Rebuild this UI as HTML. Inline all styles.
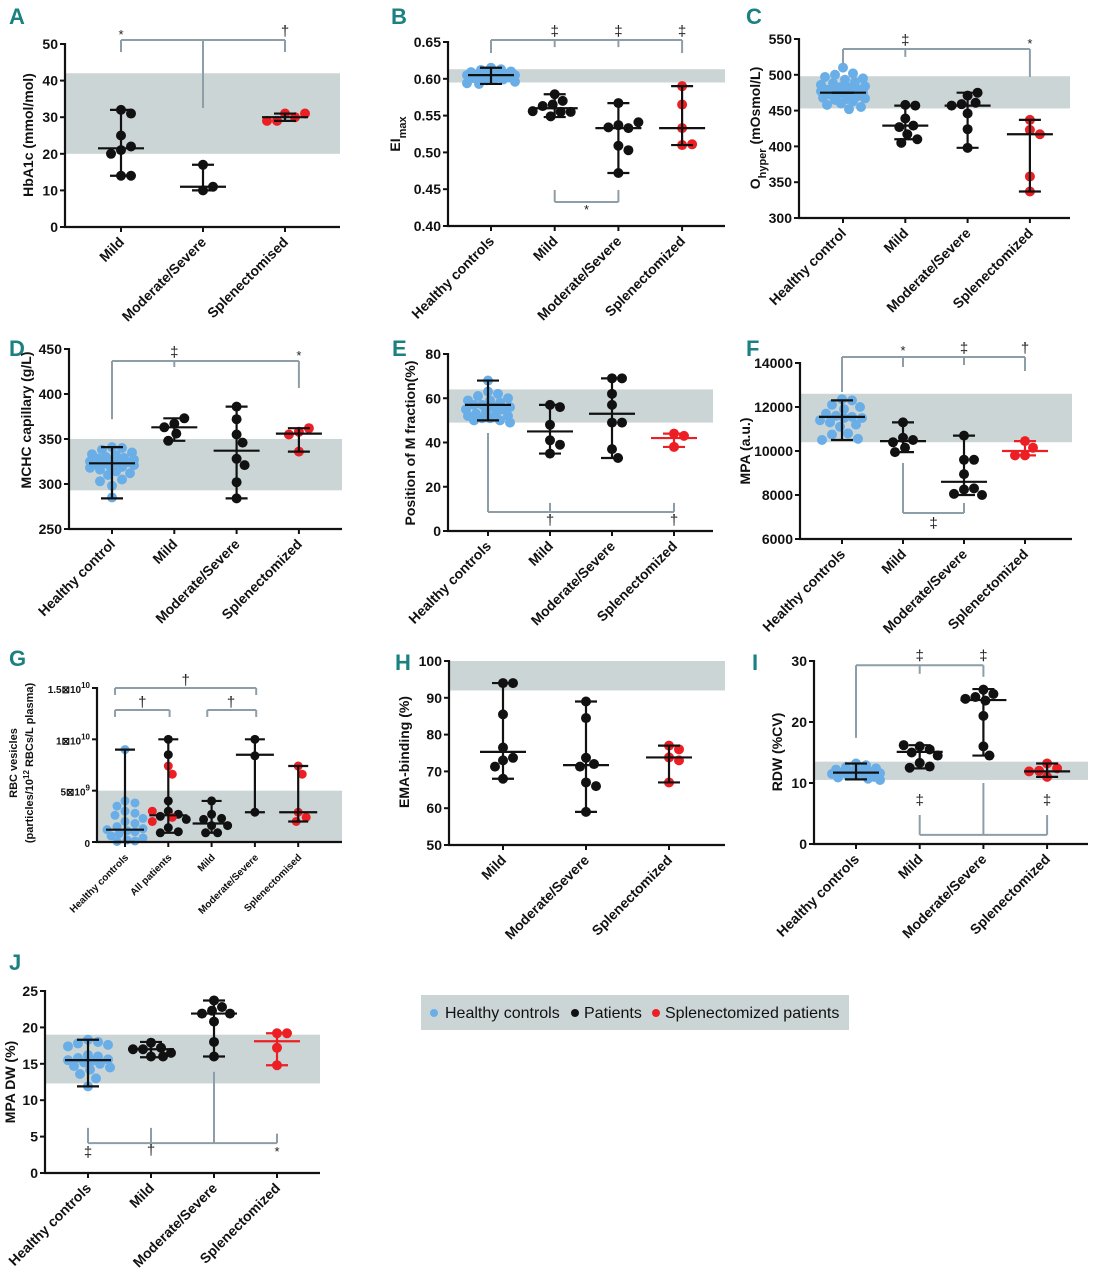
<!DOCTYPE html>
<html><head><meta charset="utf-8"><style>
html,body{margin:0;padding:0;background:#fff}
svg{display:block}
text{font-family:"Liberation Sans Narrow","Liberation Sans",sans-serif}
</style></head><body>
<svg id="fig" width="1103" height="1280" viewBox="0 0 1103 1280" xmlns="http://www.w3.org/2000/svg"></svg>
<script>
// ---------- data ----------
const A_cats=["Mild","Moderate/Severe","Splenectomised"];
const A_mild=[32,31,25,21,22,20,14,14];
const A_mod=[17,10,11];
const A_spl=[31,30,29,29,31];
const A_med=[21.5,11,30], A_lo=[14,10,29], A_hi=[32,17,31];
const A_ticks=[0,10,20,30,40,50];

const B_cats=["Healthy controls","Mild","Moderate/Severe","Splenectomized"];
const B_hc=[0.615,0.613,0.612,0.61,0.609,0.608,0.607,0.607,0.606,0.605,0.605,0.604,0.604,0.603,0.602,0.601,0.6,0.599,0.598,0.596,0.594,0.593];
const B_mild=[0.579,0.570,0.565,0.563,0.555,0.555,0.549,0.556];
const B_mod=[0.567,0.537,0.533,0.534,0.541,0.509,0.503,0.472];
const B_spl=[0.590,0.565,0.533,0.510,0.511];
const B_med=[0.605,0.560,0.533,0.533], B_lo=[0.593,0.548,0.472,0.510], B_hi=[0.615,0.579,0.567,0.590];
const B_ticks=[0.40,0.45,0.50,0.55,0.60,0.65];

const C_cats=["Healthy control","Mild","Moderate/Severe","Splenectomized"];
const C_hc=[510,502,500,497,495,493,490,488,486,484,483,482,480,479,478,477,476,475,474,473,472,470,468,467,466,465,463,460,458,455,452];
const C_mild=[458,457,439,429,427,417,405,410];
const C_mod=[471,475,461,459,457,446,424,398];
const C_spl=[437,423,417,358,337];
const C_med=[475,429,457,417], C_lo=[475,410,398,337], C_hi=[475,457,475,437];
const C_ticks=[300,350,400,450,500,550];

const D_cats=["Healthy control","Mild","Moderate/Severe","Splenectomized"];
const D_hc=[341,340,338,335,333,332,330,329,328,327,326,325,324,324,323,322,321,320,319,318,316,314,312,310,305,303,298,285];
const D_mild=[367,373,363,356,348];
const D_mod=[386,372,355,346,328,321,302,284];
const D_spl=[358,362,355,336];
const D_med=[323,363,337,356], D_lo=[284,348,284,336], D_hi=[341,373,386,362];
const D_ticks=[250,300,350,400,450];

const E_cats=["Healthy controls","Mild","Moderate/Severe","Splenectomized"];
const E_hc=[68,63,62,61,60,59,59,58,57,57,56,56,55,55,54,53,53,52,52,51,51,50,50,49];
const E_mild=[57,56,48,41,39,35];
const E_mod=[69,69,62,57,49,49,37,33];
const E_spl=[44,43,38];
const E_med=[57,45,53,42], E_lo=[50,35,33,38], E_hi=[68,57,69,44];
const E_ticks=[0,20,40,60,80];

const F_cats=["Healthy controls","Mild","Moderate/Severe","Splenectomized"];
const F_hc=[12350,12300,12100,12000,11900,11700,11600,11550,11500,11500,11400,11300,11200,11100,10800,10750,10550,10500];
const F_mild=[11300,10600,10500,10400,10150,9950];
const F_mod=[10700,9600,9600,8950,8250,8300,8050,8000];
const F_spl=[10450,10150,9800,9800];
const F_med=[11550,10450,8600,10000], F_lo=[10500,9950,8000,9800], F_hi=[12300,11300,10700,10450];
const F_ticks=[6000,8000,10000,12000,14000];

const G_cats=["Healthy controls","All patients","Mild","Moderate/Severe","Splenectomised"];
const G_hc=[9e9,4e9,3.8e9,3.5e9,3e9,2.8e9,2.6e9,2.3e9,2e9,1.8e9,1.5e9,1.3e9,1.2e9,1.1e9,1e9,0.8e9,0.6e9,0.4e9,0.2e9,0.1e9,0.05e9];
const G_all_black=[10e9,8.5e9,4e9,3e9,2.7e9,2.5e9,2.2e9,1.4e9,1e9,0.9e9];
const G_all_red=[7.4e9,6.6e9,3e9,2.4e9,2e9];
const G_mild=[4e9,2.7e9,2.3e9,2.2e9,1.6e9,1.6e9,0.9e9,0.9e9];
const G_mod=[10e9,8.4e9,2.9e9];
const G_spl=[7.4e9,6.6e9,2.9e9,2.4e9,2e9];
const G_med=[1.2e9,2.6e9,1.8e9,8.5e9,2.9e9], G_lo=[0,0.9e9,0.9e9,2.9e9,2e9], G_hi=[9e9,10e9,4e9,10e9,7.4e9];
const G_ticks=[0,5e9,1e10,1.5e10];
const G_tickLabels=[["0",""],["5\u22A010","9"],["1\u22A010","10"],["1.5\u22A010","10"]];

const H_cats=["Mild","Moderate/Severe","Splenectomized"];
const H_mild=[94,94,85.5,76.5,73,73.7,71.3,68];
const H_mod=[89,84.5,73.7,72,71.3,67,66,59];
const H_spl=[77,76,73.8,73,67];
const H_med=[75.3,71.7,73.8], H_lo=[68,59,67], H_hi=[94,89,77];
const H_ticks=[50,60,70,80,90,100];

const I_cats=["Healthy controls","Mild","Moderate/Severe","Splenectomized"];
const I_hc=[13.2,12.9,12.6,12.4,12.2,12,11.9,11.8,11.7,11.6,11.5,11.4,11.3,11.2,11,10.9,10.7,10.5];
const I_mild=[16,15.5,15,14.5,16.2,13.3,12.7,12.5];
const I_mod=[25.3,24.6,24.1,23.5,23.8,21,16,14.5];
const I_spl=[13.2,12.4,12,11.9,11];
const I_med=[11.7,15.1,23.6,11.9], I_lo=[10.6,12.4,14.5,11], I_hi=[13.2,16.2,25.4,13.2];
const I_ticks=[0,10,20,30];

const J_cats=["Healthy controls","Mild","Moderate/Severe","Splenectomized"];
const J_hc=[18.3,18,17.8,17.6,17.4,16.2,16,15.8,15.6,15.5,15.4,15.2,15,14.7,14.5,14.2,13.6,13,11.9];
const J_mild=[17.9,17.2,17,17,16.5,16,16];
const J_mod=[23.7,22.8,22.3,21.9,21.9,20.8,18,16];
const J_spl=[19.2,19.2,17.2,14.8];
const J_med=[15.5,17,21.9,18.1], J_lo=[11.9,15.9,16,14.8], J_hi=[18.3,18,23.7,19.2];
const J_ticks=[0,5,10,15,20,25];

// ---------- drawing ----------
const NS="http://www.w3.org/2000/svg";
const svg=document.getElementById('fig');
const BLUE="#6aaee8", RED="#ec2024", BLK="#111", BAND="#cbd5d5", GRAY="#8e9ea8", TEAL="#1b8080";
function mk(tag,attrs,parent){const e=document.createElementNS(NS,tag);for(const k in attrs)e.setAttribute(k,attrs[k]);(parent||svg).appendChild(e);return e;}

function panel(p){
  const g=mk('g',{});
  
  
  const ys=v=>p.yBot-(v-p.vmin)/(p.vmax-p.vmin)*(p.yBot-p.yTop);
  const xs=i=>p.c0+i*p.step;
  const band=mk('rect',{x:p.x0,y:ys(p.band[1]),width:p.x1-p.x0,height:ys(p.band[0])-ys(p.band[1]),fill:BAND},g);
  
  
  const lt=mk('text',{x:p.lx,y:p.ly,'font-size':22,'font-weight':'bold',fill:TEAL},g);
  lt.textContent=p.id;
  
  
  (p.brackets||[]).forEach(b=>{
    const yb=ys(b.y);
    const h=mk('line',{x1:xs(b.a),x2:xs(b.b),y1:yb,y2:yb,stroke:GRAY,'stroke-width':2},g);
    
    
    b.drops.forEach(d=>{
      const v=mk('line',{x1:xs(d[0]),x2:xs(d[0]),y1:yb,y2:ys(d[1]),stroke:GRAY,'stroke-width':2},g);
      
      
    });
    b.labels.forEach(l=>{
      const t=mk('text',{x:xs(l[0]),y:yb+l[2],'text-anchor':'middle','font-size':l[1]=='*'?13:15,fill:'#222'},g);
      t.textContent=l[1];
      
      
    });
  });
  p.groups.forEach(gr=>{
    const cx=xs(gr.i);
    const placed=[];
    const all=[];
    gr.sets.forEach(s=>s.vals.forEach(v=>all.push({v,c:s.color})));
    const r=p.r||5, dmin=r*2, maxW=p.sw||22;
    all.forEach(pt=>{
      const py=ys(pt.v);
      let best=0,bestD=-1;
      for(let k=0;k<60;k++){
        const o=(k%2?1:-1)*Math.ceil(k/2)*2;
        if(Math.abs(o)>maxW)break;
        const dm=placed.reduce((m,q)=>Math.min(m,Math.hypot(q.x-(cx+o),q.y-py)),1e9);
        if(dm>=dmin){best=o;bestD=dm;break;}
        if(dm>bestD){bestD=dm;best=o;}
      }
      placed.push({x:cx+best,y:py});
      const c=mk('circle',{cx:cx+best,cy:py,r:r,fill:pt.c},g);
      
      
    });
    const lc=gr.lineColor||BLK;
    const hw=p.mw||23, cw=p.cw||11;
    const el=[[cx,ys(gr.lo),cx,ys(gr.hi)],[cx-cw,ys(gr.lo),cx+cw,ys(gr.lo)],[cx-cw,ys(gr.hi),cx+cw,ys(gr.hi)],[cx-hw,ys(gr.med),cx+hw,ys(gr.med)]];
    el.forEach((l,k)=>{
      const ln=mk('line',{x1:l[0],y1:l[1],x2:l[2],y2:l[3],stroke:lc,'stroke-width':2.2},g);
      
      
    });
  });
  const ya=mk('line',{x1:p.x0,x2:p.x0,y1:p.yTop-1,y2:p.yBot+1,stroke:BLK,'stroke-width':2.2},g);
  
  
  const xa=mk('line',{x1:p.x0-1,x2:p.x1,y1:p.yBot,y2:p.yBot,stroke:BLK,'stroke-width':2.2},g);
  
  
  p.ticks.forEach((t,k)=>{
    const y=ys(t);
    const tl=mk('line',{x1:p.x0-5,x2:p.x0,y1:y,y2:y,stroke:BLK,'stroke-width':2},g);
    
    
    const tx=mk('text',{x:p.x0-7,y:y+5,'text-anchor':'end','font-size':p.tfs||14,'font-weight':'bold',fill:BLK},g);
    if(p.tickLabels){const L=p.tickLabels[k];tx.textContent=L[0];if(L[1]){const s=mk('tspan',{dy:-5,'font-size':8},tx);s.textContent=L[1];}}
    else tx.textContent=p.fmt?p.fmt(t):String(t);
    
    
  });
  p.cats.forEach((c,i)=>{
    const x=xs(i);
    const tl=mk('line',{x1:x,x2:x,y1:p.yBot,y2:p.yBot+5,stroke:BLK,'stroke-width':2},g);
    
    
    const tx=mk('text',{x:x+4,y:p.yBot+16,'text-anchor':'end','font-size':p.xfs||14,'font-weight':'bold',fill:BLK,transform:`rotate(-45 ${x+4} ${p.yBot+16})`},g);
    tx.textContent=c;
    
    
  });
  p.ytitle.forEach(yt=>{
    const tx=mk('text',{x:yt.x,y:yt.y,'text-anchor':'middle','font-size':yt.fs||14,'font-weight':'bold',fill:BLK,transform:`rotate(-90 ${yt.x} ${yt.y})`},g);
    yt.parts.forEach(pt=>{
      const s=mk('tspan',pt.sub?{'baseline-shift':pt.sub,'font-size':pt.fs||10}:{},tx);
      s.textContent=pt.t;
    });
    
    
  });
}
const grp=(i,vals,color,med,lo,hi,extra)=>Object.assign({i,sets:[{vals,color}],med,lo,hi},extra||{});

panel({id:'A',lx:9,ly:24,x0:65,x1:340,yTop:44,yBot:227,vmin:0,vmax:50,ticks:A_ticks,band:[20,42],cats:A_cats,c0:121,step:82,
  groups:[grp(0,A_mild,BLK,A_med[0],A_lo[0],A_hi[0]),grp(1,A_mod,BLK,A_med[1],A_lo[1],A_hi[1]),grp(2,A_spl,RED,A_med[2],A_lo[2],A_hi[2],{lineColor:BLK})],
  brackets:[{y:51.1,a:0,b:2,drops:[[0,47.8],[1,32.5],[2,47.8]],labels:[[0,'*',-1],[2,'\u2020',-4]]}],
  ytitle:[{x:33,y:135,parts:[{t:'HbA1c (mmol/mol)'}]}]});

panel({id:'B',lx:391,ly:24,x0:448,x1:725,yTop:42,yBot:226,vmin:0.40,vmax:0.65,ticks:B_ticks,fmt:v=>v.toFixed(2),band:[0.595,0.613],cats:B_cats,c0:491,step:63.7,sw:24,
  groups:[grp(0,B_hc,BLUE,B_med[0],B_lo[0],B_hi[0]),grp(1,B_mild,BLK,B_med[1],B_lo[1],B_hi[1]),grp(2,B_mod,BLK,B_med[2],B_lo[2],B_hi[2]),grp(3,B_spl,RED,B_med[3],B_lo[3],B_hi[3])],
  brackets:[{y:0.6527,a:0,b:3,drops:[[0,0.635],[1,0.643],[2,0.643],[3,0.635]],labels:[[1,'\u2021',-4],[2,'\u2021',-4],[3,'\u2021',-4]]},
            {y:0.4326,a:1,b:2,drops:[[1,0.449],[2,0.449]],labels:[[1.5,'*',12]]}],
  ytitle:[{x:400,y:134,parts:[{t:'EI'},{t:'max',sub:'sub',fs:11}]}]});

panel({id:'C',lx:746,ly:24,x0:799,x1:1070,yTop:39,yBot:218,vmin:300,vmax:550,ticks:C_ticks,band:[453,498],cats:C_cats,c0:843,step:62.3,
  groups:[grp(0,C_hc,BLUE,C_med[0],C_lo[0],C_hi[0]),grp(1,C_mild,BLK,C_med[1],C_lo[1],C_hi[1]),grp(2,C_mod,BLK,C_med[2],C_lo[2],C_hi[2]),grp(3,C_spl,RED,C_med[3],C_lo[3],C_hi[3])],
  brackets:[{y:536,a:0,b:3,drops:[[0,512],[1,525],[3,497]],labels:[[1,'\u2021',-4],[3,'*',-1]]}],
  ytitle:[{x:760,y:128,parts:[{t:'O'},{t:'hyper',sub:'sub',fs:11},{t:' (mOsmol/L)'}]}]});

panel({id:'D',lx:9,ly:356,x0:69,x1:342,yTop:349,yBot:529,vmin:250,vmax:450,ticks:D_ticks,band:[293,350],cats:D_cats,c0:112,step:62.3,
  groups:[grp(0,D_hc,BLUE,D_med[0],D_lo[0],D_hi[0]),grp(1,D_mild,BLK,D_med[1],D_lo[1],D_hi[1]),grp(2,D_mod,BLK,D_med[2],D_lo[2],D_hi[2]),grp(3,D_spl,RED,D_med[3],D_lo[3],D_hi[3])],
  brackets:[{y:436.7,a:0,b:3,drops:[[0,372],[1,430],[3,406.7]],labels:[[1,'\u2021',-4],[3,'*',-1]]}],
  ytitle:[{x:31,y:420,parts:[{t:'MCHC  capillary (g/L)'}]}]});

panel({id:'E',lx:392,ly:356,x0:448,x1:713,yTop:354,yBot:531,vmin:0,vmax:80,ticks:E_ticks,band:[49,64],cats:E_cats,c0:488,step:62,
  groups:[grp(0,E_hc,BLUE,E_med[0],E_lo[0],E_hi[0]),grp(1,E_mild,BLK,E_med[1],E_lo[1],E_hi[1]),grp(2,E_mod,BLK,E_med[2],E_lo[2],E_hi[2]),grp(3,E_spl,RED,E_med[3],E_lo[3],E_hi[3],{lineColor:RED})],
  brackets:[{y:8.6,a:0,b:3,drops:[[0,44.3],[1,12.7],[3,12.7]],labels:[[1,'\u2020',13],[3,'\u2020',13]]}],
  ytitle:[{x:415,y:443,parts:[{t:'Position of M fraction(%)'}]}]});

panel({id:'F',lx:746,ly:356,x0:800,x1:1072,yTop:363,yBot:539,vmin:6000,vmax:14000,ticks:F_ticks,band:[10400,12600],cats:F_cats,c0:842,step:61,
  groups:[grp(0,F_hc,BLUE,F_med[0],F_lo[0],F_hi[0]),grp(1,F_mild,BLK,F_med[1],F_lo[1],F_hi[1]),grp(2,F_mod,BLK,F_med[2],F_lo[2],F_hi[2]),grp(3,F_spl,RED,F_med[3],F_lo[3],F_hi[3],{lineColor:RED})],
  brackets:[{y:14273,a:0,b:3,drops:[[0,12682],[1,13818],[2,13909],[3,13636]],labels:[[1,'*',-2],[2,'\u2021',-4],[3,'\u2020',-4]]},
            {y:7182,a:1,b:2,drops:[[1,9455],[2,7636]],labels:[[1.5,'\u2021',15]]}],
  ytitle:[{x:750,y:451,parts:[{t:'MPA (a.u.)'}]}]});

panel({id:'G',lx:9,ly:666,x0:97,x1:342,yTop:688,yBot:842,vmin:0,vmax:1.5e10,ticks:G_ticks,tickLabels:G_tickLabels,tfs:10,xfs:10,mw:19,cw:10,r:4.5,sw:18,band:[0,5e9],cats:G_cats,c0:125,step:43.3,
  groups:[{i:0,sets:[{vals:G_hc,color:BLUE}],med:G_med[0],lo:G_lo[0],hi:G_hi[0]},
          {i:1,sets:[{vals:G_all_black,color:BLK},{vals:G_all_red,color:RED}],med:G_med[1],lo:G_lo[1],hi:G_hi[1]},
          grp(2,G_mild,BLK,G_med[2],G_lo[2],G_hi[2]),grp(3,G_mod,BLK,G_med[3],G_lo[3],G_hi[3]),grp(4,G_spl,RED,G_med[4],G_lo[4],G_hi[4])],
  brackets:[{y:1.5e10,a:-0.23,b:3.03,drops:[[-0.23,1.432e10],[3.03,1.432e10]],labels:[[1.4,'\u2020',-3]]},
            {y:1.286e10,a:-0.23,b:1.03,drops:[[-0.23,1.218e10],[1.03,1.218e10]],labels:[[0.4,'\u2020',-3]]},
            {y:1.286e10,a:1.9,b:3.03,drops:[[1.9,1.218e10],[3.03,1.218e10]],labels:[[2.45,'\u2020',-3]]}],
  ytitle:[{x:17,y:763,fs:11,parts:[{t:'RBC vesicles'}]},{x:33,y:763,fs:11,parts:[{t:'(particles/10'},{t:'12',sub:'super',fs:8},{t:' RBCs/L plasma)'}]}]});

panel({id:'H',lx:395,ly:670,x0:449,x1:725,yTop:661,yBot:845,vmin:50,vmax:100,ticks:H_ticks,band:[92,100],cats:H_cats,c0:503,step:83,
  groups:[grp(0,H_mild,BLK,H_med[0],H_lo[0],H_hi[0]),grp(1,H_mod,BLK,H_med[1],H_lo[1],H_hi[1]),grp(2,H_spl,RED,H_med[2],H_lo[2],H_hi[2])],
  brackets:[],
  ytitle:[{x:409,y:752,parts:[{t:'EMA-binding (%)'}]}]});

panel({id:'I',lx:752,ly:670,x0:814,x1:1088,yTop:661,yBot:844,vmin:0,vmax:30,ticks:I_ticks,band:[10.5,13.5],cats:I_cats,c0:856,step:63.7,sw:24,
  groups:[grp(0,I_hc,BLUE,I_med[0],I_lo[0],I_hi[0]),grp(1,I_mild,BLK,I_med[1],I_lo[1],I_hi[1]),grp(2,I_mod,BLK,I_med[2],I_lo[2],I_hi[2]),grp(3,I_spl,RED,I_med[3],I_lo[3],I_hi[3])],
  brackets:[{y:29.3,a:0,b:2,drops:[[0,17.4],[1,27.9],[2,27.4]],labels:[[1,'\u2021',-5],[2,'\u2021',-5]]},
            {y:1.5,a:1,b:3,drops:[[1,4.75],[2,10],[3,4.75]],labels:[[1,'\u2021',-30],[3,'\u2021',-30]]}],
  ytitle:[{x:782,y:752,parts:[{t:'RDW  (%CV)'}]}]});

panel({id:'J',lx:9,ly:970,x0:45,x1:320,yTop:991,yBot:1173,vmin:0,vmax:25,ticks:J_ticks,band:[12.3,19],cats:J_cats,c0:88,step:63,
  groups:[grp(0,J_hc,BLUE,J_med[0],J_lo[0],J_hi[0]),grp(1,J_mild,BLK,J_med[1],J_lo[1],J_hi[1]),grp(2,J_mod,BLK,J_med[2],J_lo[2],J_hi[2]),grp(3,J_spl,RED,J_med[3],J_lo[3],J_hi[3],{lineColor:RED})],
  brackets:[{y:4.1,a:0,b:3,drops:[[0,6.2],[1,6.2],[2,13.9],[3,5.4]],labels:[[0,'\u2021',14],[1,'\u2020',12],[3,'*',13]]}],
  ytitle:[{x:15,y:1082,parts:[{t:'MPA DW (%)'}]}]});

const lg=mk('g',{});


const lr=mk('rect',{x:421,y:995,width:428,height:35,fill:BAND},lg);


[[434,BLUE,445,'Healthy controls'],[575,BLK,584,'Patients'],[656,RED,665,'Splenectomized patients']].forEach(e=>{
  const c=mk('circle',{cx:e[0],cy:1013,r:4,fill:e[1]},lg);
  
  
  const t=mk('text',{x:e[2],y:1018,'font-size':16,fill:'#111',style:'font-family:"Liberation Sans",sans-serif'},lg);
  t.textContent=e[3];
  
  
});
</script>
</body></html>
